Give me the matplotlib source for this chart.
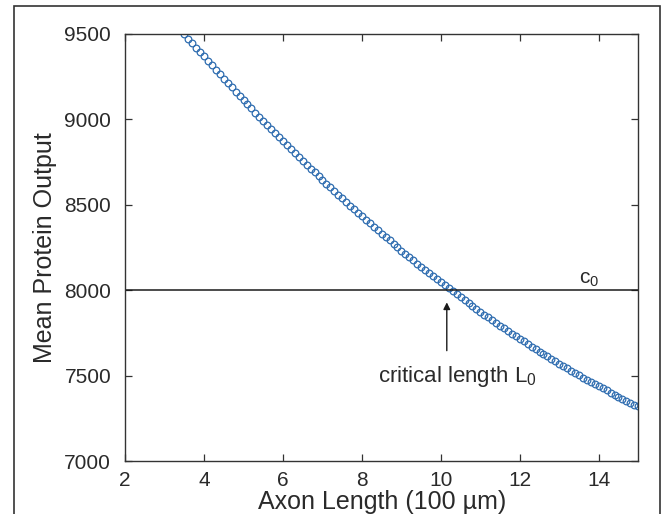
import numpy as np
import matplotlib
matplotlib.use('Agg')
import matplotlib.pyplot as plt
from matplotlib.patches import Rectangle

plt.rcParams['font.family'] = ['Liberation Sans', 'DejaVu Sans']
plt.rcParams['mathtext.fontset'] = 'custom'
plt.rcParams['mathtext.rm'] = 'Liberation Sans'
plt.rcParams['mathtext.it'] = 'Liberation Sans'

# axon length (100 um), one marker every 0.1
axon_length = np.round(np.arange(3.5, 15.0001, 0.1), 1)
protein_output = [
    9500, 9473, 9447, 9420, 9394, 9368, 9342, 9316, 9290, 9264,
    9239, 9213, 9188, 9163, 9138, 9113, 9089, 9064, 9040, 9015,
    8991, 8967, 8943, 8920, 8896, 8873, 8849, 8826, 8803, 8780,
    8757, 8735, 8712, 8690, 8668, 8646, 8624, 8602, 8580, 8559,
    8537, 8516, 8495, 8474, 8453, 8432, 8412, 8391, 8371, 8351,
    8331, 8311, 8291, 8271, 8252, 8232, 8213, 8194, 8175, 8156,
    8138, 8119, 8101, 8082, 8064, 8046, 8028, 8011, 7993, 7975,
    7958, 7941, 7924, 7907, 7890, 7874, 7857, 7841, 7825, 7808,
    7792, 7777, 7761, 7745, 7730, 7715, 7700, 7685, 7670, 7655,
    7640, 7626, 7612, 7597, 7583, 7570, 7556, 7542, 7529, 7515,
    7502, 7489, 7476, 7463, 7450, 7438, 7426, 7413, 7401, 7389,
    7377, 7366, 7354, 7342, 7331, 7320,
]
c0 = 8000
L0 = 10.15
xticks = [2, 4, 6, 8, 10, 12, 14]
yticks = [7000, 7500, 8000, 8500, 9000, 9500]

txt = '#2a2a2a'
fig = plt.figure(figsize=(6.69, 5.14), dpi=100)
ax = fig.add_axes([0.187, 0.103, 0.767, 0.831])

ax.plot(axon_length, protein_output, 'o', mfc='none', mec='#2f6db0',
        ms=4.8, mew=0.9)
ax.axhline(c0, color='#1a1a1a', lw=1.1)

ax.annotate('', xy=(L0, 7945), xytext=(L0, 7630),
            arrowprops=dict(arrowstyle='-|>', color='#1a1a1a', lw=1,
                            mutation_scale=10))
ax.text(8.4, 7465, 'critical length L$_\\mathregular{0}$', fontsize=16,
        color=txt, va='baseline')
ax.text(13.5, 8040, 'c$_\\mathregular{0}$', fontsize=15, color=txt,
        va='baseline')

ax.set_xlim(2, 15)
ax.set_ylim(7000, 9500)
ax.set_xticks(xticks)
ax.set_yticks(yticks)
ax.tick_params(direction='in', top=True, right=True, length=5, width=0.9,
               labelsize=15, labelcolor=txt, color='#333333')
ax.tick_params(axis='y', pad=10)
ax.tick_params(axis='x', pad=7)
for s in ax.spines.values():
    s.set_color('#333333')
    s.set_linewidth(1)

ax.set_xlabel('Axon Length (100 µm)', fontsize=18, color=txt, labelpad=0)
ax.set_ylabel('Mean Protein Output', fontsize=18, color=txt, labelpad=5)

fig.add_artist(Rectangle((0.021, -0.1), 0.966, 1.088,
                         transform=fig.transFigure, fill=False,
                         lw=1.2, ec='#333333'))

fig.savefig('out.png', dpi=100)
